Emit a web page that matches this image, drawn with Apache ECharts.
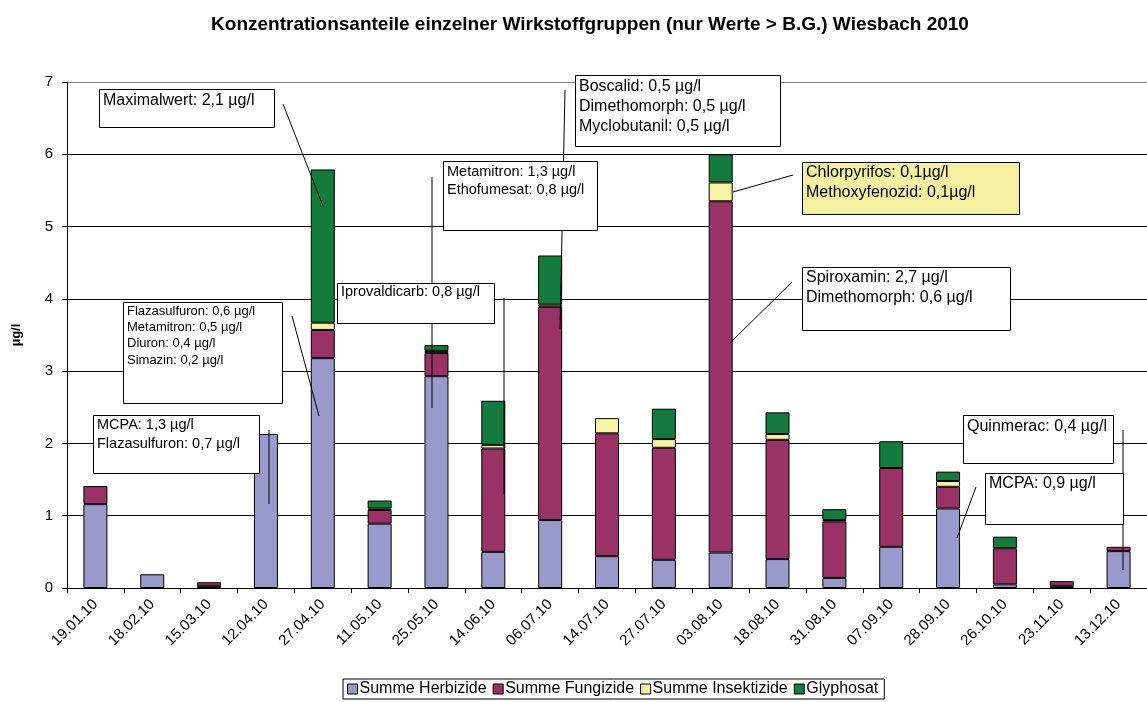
<!DOCTYPE html>
<html>
<head>
<meta charset="utf-8">
<script src="https://cdn.jsdelivr.net/npm/echarts@6/dist/echarts.min.js"></script>
<style>
html,body{margin:0;padding:0;background:#fff;}
#chart{width:1147px;height:702px;}
</style>
</head>
<body>
<div id="chart"></div>
<script>
// ---- data ----
const titleText = 'Konzentrationsanteile einzelner Wirkstoffgruppen (nur Werte > B.G.) Wiesbach 2010';
const yAxisName = 'µg/l';
const categories = ['19.01.10','18.02.10','15.03.10','12.04.10','27.04.10','11.05.10','25.05.10','14.06.10','06.07.10','14.07.10','27.07.10','03.08.10','18.08.10','31.08.10','07.09.10','28.09.10','26.10.10','23.11.10','13.12.10'];
const seriesNames = ['Summe Herbizide','Summe Fungizide','Summe Insektizide','Glyphosat'];
const herbizide  = [1.16, 0.19, 0.03, 2.13, 3.18, 0.89, 2.93, 0.50, 0.94, 0.44, 0.39, 0.49, 0.40, 0.14, 0.57, 1.10, 0.05, 0.03, 0.51];
const fungizide  = [0.25, '-',  0.05, '-',  0.39, 0.19, 0.32, 1.43, 2.95, 1.70, 1.55, 4.86, 1.65, 0.78, 1.09, 0.30, 0.50, 0.065, 0.06];
const insektizide= ['-',  '-',  '-',  '-',  0.10, 0.02, 0.03, 0.05, 0.03, 0.21, 0.12, 0.26, 0.08, 0.02, '-',  0.08, '-',  '-',  '-'];
const glyphosat  = ['-',  '-',  '-',  '-',  2.12, 0.11, 0.08, 0.61, 0.68, '-',  0.42, 0.39, 0.30, 0.15, 0.37, 0.13, 0.16, '-',  '-'];
const yTicks = [0,1,2,3,4,5,6,7];

// annotation texts
const noteMaximal   = ['Maximalwert: 2,1 µg/l'];
const noteFlaza     = ['Flazasulfuron: 0,6 µg/l','Metamitron: 0,5 µg/l','Diuron: 0,4 µg/l','Simazin: 0,2 µg/l'];
const noteMCPA13    = ['MCPA: 1,3 µg/l','Flazasulfuron: 0,7 µg/l'];
const noteIprova    = ['Iprovaldicarb: 0,8 µg/l'];
const noteMetamitron= ['Metamitron: 1,3 µg/l','Ethofumesat: 0,8 µg/l'];
const noteBoscalid  = ['Boscalid: 0,5 µg/l','Dimethomorph: 0,5 µg/l','Myclobutanil: 0,5 µg/l'];
const noteChlor     = ['Chlorpyrifos: 0,1µg/l','Methoxyfenozid: 0,1µg/l'];
const noteSpirox    = ['Spiroxamin: 2,7 µg/l','Dimethomorph: 0,6 µg/l'];
const noteQuinmerac = ['Quinmerac: 0,4 µg/l'];
const noteMCPA09    = ['MCPA: 0,9 µg/l'];

// ---- styling / layout ----
const FONT = '"Liberation Sans", Arial, sans-serif';
const colors = ['#9999CC','#993366','#F6F3A2','#147B3C'];

function box(lines, x, y, w, h, fontSize, lineHeight, firstCenter, fill) {
  return {
    type: 'group', z: 110,
    children: [
      { type:'rect', z: 110, shape:{x:x+0.5, y:y+0.5, width:w, height:h},
        style:{fill: fill || '#fff', stroke:'#000', lineWidth:1} },
      { type:'text', z: 111, style:{ text: lines.join('\n'), x: x+4, y: firstCenter - lineHeight/2,
        fontSize: fontSize, fontFamily: FONT, fill:'#000', lineHeight: lineHeight, verticalAlign:'top', align:'left' } }
    ]
  };
}
function lead(x1,y1,x2,y2){
  return { type:'line', z:105, shape:{x1:x1,y1:y1,x2:x2,y2:y2}, style:{stroke:'#000', lineWidth:1} };
}

const chart = echarts.init(document.getElementById('chart'), null, {renderer:'canvas'});
const mk = (name, data, i) => ({
  name: name, type:'bar', stack:'total', data: data, barWidth: 24,
  itemStyle:{color: colors[i], borderColor:'#000', borderWidth:1},
  emphasis:{disabled:true}
});

chart.setOption({
  backgroundColor:'#fff',
  animation:false,
  title:{ text: titleText, left: 585, textAlign:'center', top: 10,
    textStyle:{fontFamily: FONT, fontWeight:'bold', fontSize:19, color:'#000'} },
  grid:{ left:67, right:0, top:82, bottom:114, containLabel:false },
  legend:{
    data: seriesNames, left: 343, top: 679, orient:'horizontal',
    itemWidth: 10, itemHeight: 10, itemGap: 6, icon:'rect',
    borderColor:'#000', borderWidth:1, padding:[2,6,2,4],
    textStyle:{fontFamily: FONT, fontSize:16, color:'#000', padding:[0,0,0,-3]},
    itemStyle:{borderColor:'#000', borderWidth:1}
  },
  xAxis:{
    type:'category', data: categories,
    axisLine:{lineStyle:{color:'#000', width:1}},
    axisTick:{show:true, alignWithLabel:false, length:5, lineStyle:{color:'#000'}},
    axisLabel:{rotate:45, fontFamily: FONT, fontSize:15, color:'#000', margin:14, interval:0}
  },
  yAxis:{
    type:'value', min: yTicks[0], max: yTicks[yTicks.length-1], interval:1,
    name: yAxisName, nameLocation:'middle', nameGap:44,
    nameTextStyle:{fontFamily: FONT, fontWeight:'bold', fontSize:13, color:'#000'},
    axisLine:{show:true, lineStyle:{color:'#000'}},
    axisTick:{show:true, length:5, lineStyle:{color:'#000'}},
    axisLabel:{fontFamily: FONT, fontSize:15, color:'#000', margin:14,
      formatter: v => yTicks.includes(v) ? String(v) : ''},
    splitLine:{show:true, lineStyle:{color:['#000','#000','#000','#000','#000','#000','#000','#808080'], width:1}}
  },
  series:[
    mk(seriesNames[0], herbizide, 0),
    mk(seriesNames[1], fungizide, 1),
    mk(seriesNames[2], insektizide, 2),
    mk(seriesNames[3], glyphosat, 3)
  ],
  graphic:[
    lead(283,104,323,206),
    lead(292,316,319,416),
    lead(269,430,269,504),
    lead(432,177,432,408),
    lead(504,298,504,494),
    lead(565,90,560,329),
    lead(793,175,733,192),
    lead(792,282,730,343),
    lead(1123,430,1123,570),
    lead(976,487,957,538),
    box(noteMaximal, 99, 89, 175, 38, 16, 20, 101),
    box(noteFlaza, 123, 302, 159, 101, 13, 16.4, 311),
    box(noteMCPA13, 93, 415, 166, 58, 14.5, 19, 425),
    box(noteIprova, 337, 283, 157, 40, 14.5, 18, 292),
    box(noteMetamitron, 443, 161, 154, 69, 14.5, 18, 172),
    box(noteBoscalid, 575, 75, 205, 71, 16, 20, 86.5),
    box(noteChlor, 802, 162, 217, 52, 16, 20, 173, '#F4F0A0'),
    box(noteSpirox, 802, 267, 208, 63, 16, 20, 278),
    box(noteQuinmerac, 963, 415, 150, 48, 16, 20, 427),
    box(noteMCPA09, 985, 473, 138, 51, 16, 20, 484)
  ]
});
</script>
</body>
</html>
